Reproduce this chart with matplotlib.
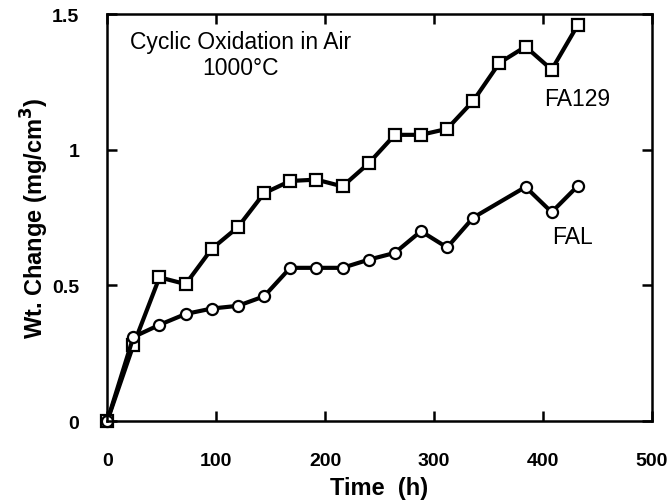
import matplotlib
matplotlib.use("Agg")
import matplotlib.pyplot as plt

plt.rcParams['font.family'] = ['Liberation Sans', 'DejaVu Sans']

# time in hours
time_fa129 = [0, 24, 48, 72, 96, 120, 144, 168, 192, 216, 240, 264, 288, 312, 336, 360, 384, 408, 432]
wt_fa129 = [0, 0.28, 0.53, 0.505, 0.635, 0.715, 0.84, 0.885, 0.89, 0.865, 0.95, 1.055, 1.055,
            1.077, 1.18, 1.32, 1.38, 1.295, 1.46]

time_fal = [0, 24, 48, 72, 96, 120, 144, 168, 192, 216, 240, 264, 288, 312, 336, 384, 408, 432]
wt_fal = [0, 0.31, 0.355, 0.395, 0.415, 0.425, 0.46, 0.565, 0.565, 0.565, 0.595, 0.62, 0.70,
          0.64, 0.75, 0.863, 0.77, 0.867]

fig = plt.figure(figsize=(6.7, 5.02), dpi=100)
ax = fig.add_axes([0.16, 0.159, 0.813, 0.811])

ax.plot(time_fa129, wt_fa129, color='black', linewidth=3.0, marker='s', markersize=8,
        markerfacecolor='white', markeredgecolor='black', markeredgewidth=1.6, clip_on=False)
ax.plot(time_fal, wt_fal, color='black', linewidth=3.0, marker='o', markersize=8,
        markerfacecolor='white', markeredgecolor='black', markeredgewidth=1.6, clip_on=False)

ax.set_xlim(0, 500)
ax.set_ylim(0, 1.5)
ax.set_xticks([0, 100, 200, 300, 400, 500])
ax.set_yticks([0, 0.5, 1, 1.5])
ax.set_yticklabels(['0', '0.5', '1', '1.5'])
ax.tick_params(direction='in', top=True, right=True, length=7, width=1.8, labelsize=14)
ax.tick_params(axis='x', pad=22)
ax.tick_params(axis='y', pad=20)
for lab in ax.get_xticklabels() + ax.get_yticklabels():
    lab.set_fontweight('bold')
for sp in ax.spines.values():
    sp.set_linewidth(1.8)

ax.set_xlabel('Time  (h)', fontsize=17, fontweight='bold', labelpad=5)
ax.set_ylabel('Wt. Change (mg/cm$^\\mathbf{3}$)', fontsize=17, fontweight='bold', labelpad=1)

ax.text(122, 1.398, 'Cyclic Oxidation in Air', fontsize=16.5, ha='center', va='center')
ax.text(122, 1.302, '1000°C', fontsize=16.5, ha='center', va='center')
ax.text(431, 1.188, 'FA129', fontsize=16.5, ha='center', va='center')
ax.text(427, 0.679, 'FAL', fontsize=16.5, ha='center', va='center')

fig.savefig('out.png', dpi=100)
